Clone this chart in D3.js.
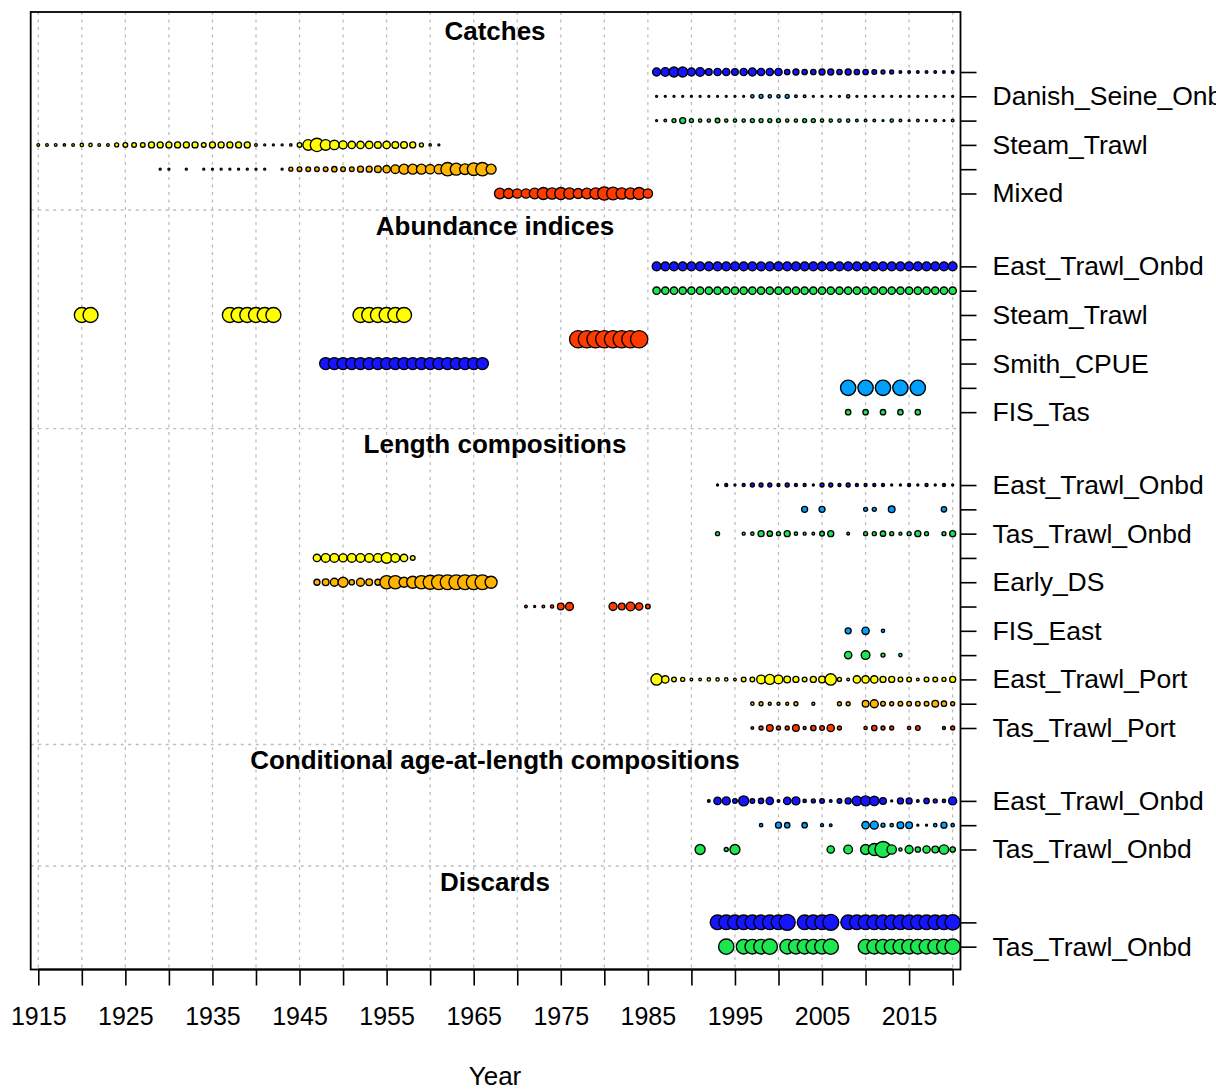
<!DOCTYPE html>
<html>
<head>
<meta charset="utf-8">
<script src="https://cdn.jsdelivr.net/npm/d3@7"></script>
<style>
  body { margin: 0; background: #fff; }
  svg { display: block; }
  text { font-family: "Liberation Sans", Arial, Helvetica, sans-serif; fill: #000; }
</style>
</head>
<body>
<svg id="chart" width="1216" height="1091"></svg>
<script>
// ---- Fleets and their colours (palette recycles every six fleets) ----
const fleets = ["East_Trawl_Onbd", "Danish_Seine_Onbd", "Tas_Trawl_Onbd", "Steam_Trawl",
  "Early_DS", "Mixed", "Smith_CPUE", "FIS_East", "FIS_Tas", "East_Trawl_Port",
  "Danish_Seine_Port", "Tas_Trawl_Port"];
const palette = ["#1414FF", "#00A0FF", "#1EE650", "#FFFF00", "#FFB400", "#FF3A00"];

// ---- Relative magnitudes (bubble size index) ----
// Consecutive years: [firstYear, [values...]] (null = no data that year)
// Sparse years: [[year, value], ...]

// Catches
const catchEastTrawlOnbd = [1986, [24,26,30,30,24,26,20,22,22,20,22,24,22,22,22,16,18,16,16,18,18,16,18,16,16,14,12,12,8,8,8,8,8,8,8]];
const catchDanishSeineOnbd = [1986, [5,5,5,5,5,5,5,5,5,5,6,10,12,10,10,12,8,8,5,5,5,5,10,5,5,5,5,5,5,5,5,5,5,5,5]];
const catchTasTrawlOnbd = [1986, [5,8,12,18,12,10,10,14,10,10,10,12,12,12,12,10,10,12,12,10,10,10,10,8,8,8,6,10,8,6,8,6,8,6,8]];
const catchSteamTrawl = [1915, [8,8,8,7,8,10,10,8,8,12,14,14,14,18,18,18,18,18,18,14,18,18,18,18,18,8,6,4,5,7,14,32,40,32,28,24,22,22,22,20,22,20,20,18,12,7,5]];
const catchEarlyDS = [1929, [4,4,null,4,null,4,4,4,4,4,4,4,4,null,4,12,14,14,14,14,16,14,14,18,18,20,22,26,30,30,30,28,28,40,36,32,38,40,30]];
const catchMixed = [1968, [32,30,28,28,32,36,34,36,34,30,32,34,40,38,34,34,36,28]];

// Abundance indices
const idxEastTrawlOnbd = [1986, [26,26,26,26,26,26,26,26,26,26,26,26,26,26,26,26,26,26,26,26,26,26,26,26,26,26,26,26,26,26,26,26,26,26,26]];
const idxTasTrawlOnbd = [1986, [22,22,22,22,22,22,22,22,22,22,22,22,22,22,22,22,22,22,22,22,22,22,22,22,22,22,22,22,22,22,22,22,22,22,22]];
const idxSteamTrawl = [[1920,45],[1921,45],[1937,45],[1938,45],[1939,45],[1940,45],[1941,45],[1942,45],[1952,45],[1953,45],[1954,45],[1955,45],[1956,45],[1957,45]];
const idxMixed = [1977, [52,52,52,52,52,52,52,52]];
const idxSmithCPUE = [1948, [36,36,36,36,36,36,36,36,36,36,36,36,36,36,36,36,36,36,36]];
const idxFISEast = [[2008,46],[2010,46],[2012,46],[2014,46],[2016,46]];
const idxFISTas = [[2008,16],[2010,16],[2012,16],[2014,16],[2016,16]];

// Length compositions
const lenEastTrawlOnbd = [1993, [6,9,6,9,12,12,12,9,12,9,9,6,12,12,9,12,9,9,9,9,6,6,9,6,9,6,9,6]];
const lenDanishSeineOnbd = [[2003,18],[2005,18],[2010,12],[2011,12],[2013,20],[2019,16]];
const lenTasTrawlOnbd = [[1993,12],[1996,9],[1997,10],[1998,18],[1999,16],[2000,12],[2001,18],[2002,10],[2003,9],[2004,8],[2005,14],[2006,18],[2008,8],[2010,12],[2011,12],[2012,16],[2013,12],[2014,9],[2015,12],[2016,18],[2017,12],[2019,12],[2020,18]];
const lenSteamTrawl = [1947, [22,26,26,24,26,26,26,26,32,26,22,14]];
const lenEarlyDS = [1947, [18,20,24,30,16,24,20,18,40,40,30,36,40,42,44,44,44,44,44,44,36]];
const lenMixed = [[1971,8],[1972,5],[1973,8],[1974,10],[1975,20],[1976,24],[1981,24],[1982,20],[1983,26],[1984,22],[1985,14]];
const lenFISEast = [[2008,18],[2010,22],[2012,10]];
const lenFISTas = [[2008,22],[2010,26],[2012,12],[2014,10]];
const lenEastTrawlPort = [1986, [34,22,14,12,8,8,10,10,10,8,14,14,26,30,26,20,18,14,18,20,34,12,8,22,22,22,18,18,14,14,8,14,14,12,18]];
const lenDanishSeinePort = [[1997,10],[1998,12],[1999,9],[2000,9],[2001,9],[2002,12],[2004,9],[2007,12],[2008,12],[2010,20],[2011,24],[2012,14],[2013,12],[2014,14],[2015,14],[2016,14],[2017,14],[2018,20],[2019,16],[2020,12]];
const lenTasTrawlPort = [[1997,8],[1998,12],[1999,20],[2000,12],[2001,12],[2002,20],[2003,9],[2004,16],[2005,14],[2006,22],[2007,12],[2010,10],[2011,16],[2012,12],[2013,12],[2015,10],[2016,14],[2019,9],[2020,12]];

// Conditional age-at-length compositions
const ageEastTrawlOnbd = [1992, [8,22,24,14,30,14,16,22,8,22,24,10,12,14,8,14,18,28,30,28,20,6,18,18,8,16,12,10,24]];
const ageDanishSeineOnbd = [[1998,10],[2000,18],[2001,16],[2003,16],[2005,9],[2006,8],[2010,22],[2011,24],[2012,12],[2013,10],[2014,20],[2015,20],[2016,6],[2017,6],[2018,10],[2019,18],[2020,10]];
const ageTasTrawlOnbd = [[1991,30],[1994,12],[1995,30],[2006,22],[2008,26],[2010,30],[2011,36],[2012,48],[2013,28],[2014,10],[2015,24],[2016,16],[2017,22],[2018,20],[2019,28],[2020,16]];

// Discards
const discEastTrawlOnbd = [1993, [44,44,44,44,44,44,44,44,48,null,44,44,44,48,null,44,44,44,44,44,44,44,44,44,44,44,44,46]];
const discTasTrawlOnbd = [1994, [46,null,44,44,44,46,null,44,44,44,44,44,46,null,null,null,44,44,44,44,44,44,44,44,44,44,46]];

// Axis ticks
const xTicks = [1915,1920,1925,1930,1935,1940,1945,1950,1955,1960,1965,1970,1975,1980,1985,1990,1995,2000,2005,2010,2015,2020];
const xTickLabels = ["1915","1925","1935","1945","1955","1965","1975","1985","1995","2005","2015"];

// ---- Sections: title + rows of [fleet index, series] ----
const sections = [
  { title: "Catches", rows: [[0, catchEastTrawlOnbd], [1, catchDanishSeineOnbd], [2, catchTasTrawlOnbd], [3, catchSteamTrawl], [4, catchEarlyDS], [5, catchMixed]] },
  { title: "Abundance indices", rows: [[0, idxEastTrawlOnbd], [2, idxTasTrawlOnbd], [3, idxSteamTrawl], [5, idxMixed], [6, idxSmithCPUE], [7, idxFISEast], [8, idxFISTas]] },
  { title: "Length compositions", rows: [[0, lenEastTrawlOnbd], [1, lenDanishSeineOnbd], [2, lenTasTrawlOnbd], [3, lenSteamTrawl], [4, lenEarlyDS], [5, lenMixed], [7, lenFISEast], [8, lenFISTas], [9, lenEastTrawlPort], [10, lenDanishSeinePort], [11, lenTasTrawlPort]] },
  { title: "Conditional age-at-length compositions", rows: [[0, ageEastTrawlOnbd], [1, ageDanishSeineOnbd], [2, ageTasTrawlOnbd]] },
  { title: "Discards", rows: [[0, discEastTrawlOnbd], [2, discTasTrawlOnbd]] }
];

function toPoints(series) {
  if (typeof series[0] === "number") {
    const [start, vals] = series;
    return vals.map((v, i) => ({ year: start + i, value: v })).filter(d => d.value != null);
  }
  return series.map(([year, value]) => ({ year, value }));
}

// Assign row positions: sections separated by two empty rows
let pos = 0;
const rowsAll = [];
const sectionLayout = [];
sections.forEach(sec => {
  const first = pos;
  sec.rows.forEach(([fi, series], k) => {
    rowsAll.push({ pos: pos, fleet: fi, points: toPoints(series), labelled: (sec.rows.length - 1 - k) % 2 === 0 });
    pos++;
  });
  const last = pos - 1;
  sectionLayout.push({ title: sec.title, first, last });
  pos = last + 3;
});

// ---- Scales ----
const plot = { left: 30.7, right: 960.5, top: 12, bottom: 969.5 };
const x = d3.scaleLinear().domain([1914.13, 2020.9]).range([plot.left, plot.right]);
const y = d3.scaleLinear().domain([-2.47, 36.94]).range([plot.top, plot.bottom]);
const r = d3.scaleLinear().domain([0, 48]).range([0, 8]);

const svg = d3.select("#chart");

// Vertical grid
svg.append("g").selectAll("line").data(xTicks).join("line")
  .attr("x1", d => x(d)).attr("x2", d => x(d))
  .attr("y1", plot.top).attr("y2", plot.bottom)
  .attr("stroke", "#bdbdbd").attr("stroke-width", 1.3).attr("stroke-dasharray", "3,4.5");

// Section separators
svg.append("g").selectAll("line").data(sectionLayout.slice(0, -1)).join("line")
  .attr("x1", plot.left).attr("x2", plot.right)
  .attr("y1", d => y(d.last + 0.68)).attr("y2", d => y(d.last + 0.68))
  .attr("stroke", "#bdbdbd").attr("stroke-width", 1.3).attr("stroke-dasharray", "3,4.5");

// Section titles
svg.append("g").selectAll("text").data(sectionLayout).join("text")
  .attr("x", 495).attr("y", d => y(d.first - 1.68))
  .attr("dy", "0.35em").attr("text-anchor", "middle")
  .attr("font-size", 26).attr("font-weight", "bold")
  .text(d => d.title);

// Bubbles
const rowG = svg.append("g").selectAll("g").data(rowsAll).join("g");
rowG.selectAll("circle").data(d => d.points.map(p => ({ ...p, row: d }))).join("circle")
  .attr("cx", d => x(d.year)).attr("cy", d => y(d.row.pos))
  .attr("r", d => Math.max(r(d.value), 1.0))
  .attr("fill", d => palette[d.row.fleet % 6])
  .attr("stroke", "#000").attr("stroke-width", 1.35);

// Frame
svg.append("rect")
  .attr("x", plot.left).attr("y", plot.top)
  .attr("width", plot.right - plot.left).attr("height", plot.bottom - plot.top)
  .attr("fill", "none").attr("stroke", "#000").attr("stroke-width", 1.8);

// Bottom axis
const xAxis = d3.axisBottom(x).tickValues(xTicks).tickSize(16).tickSizeOuter(0)
  .tickFormat(d => xTickLabels.includes(String(d)) ? String(d) : "");
const gx = svg.append("g").attr("transform", `translate(0,${plot.bottom})`).call(xAxis);
gx.select(".domain").attr("stroke-width", 1.8).attr("d", `M${x(1915)},0H${x(2020)}`);
gx.selectAll(".tick line").attr("stroke-width", 1.6);
gx.selectAll(".tick text").attr("font-size", 25).attr("font-family", "Liberation Sans, Arial, sans-serif")
  .attr("y", 38).attr("dy", "0.71em");

// Right axis (fleet names on alternate rows)
const yAxis = d3.axisRight(y).tickValues(rowsAll.map(d => d.pos)).tickSize(16).tickSizeOuter(0)
  .tickFormat(p => { const row = rowsAll.find(d => d.pos === p); return row.labelled ? fleets[row.fleet] : ""; });
const gy = svg.append("g").attr("transform", `translate(${plot.right},0)`).call(yAxis);
gy.select(".domain").remove();
gy.selectAll(".tick line").attr("stroke-width", 1.6);
gy.selectAll(".tick text").attr("font-size", 26.5).attr("font-family", "Liberation Sans, Arial, sans-serif")
  .attr("x", 32);

// Axis title
svg.append("text").attr("x", 495).attr("y", 1076).attr("dy", "0.35em")
  .attr("text-anchor", "middle").attr("font-size", 26).text("Year");
</script>
</body>
</html>
